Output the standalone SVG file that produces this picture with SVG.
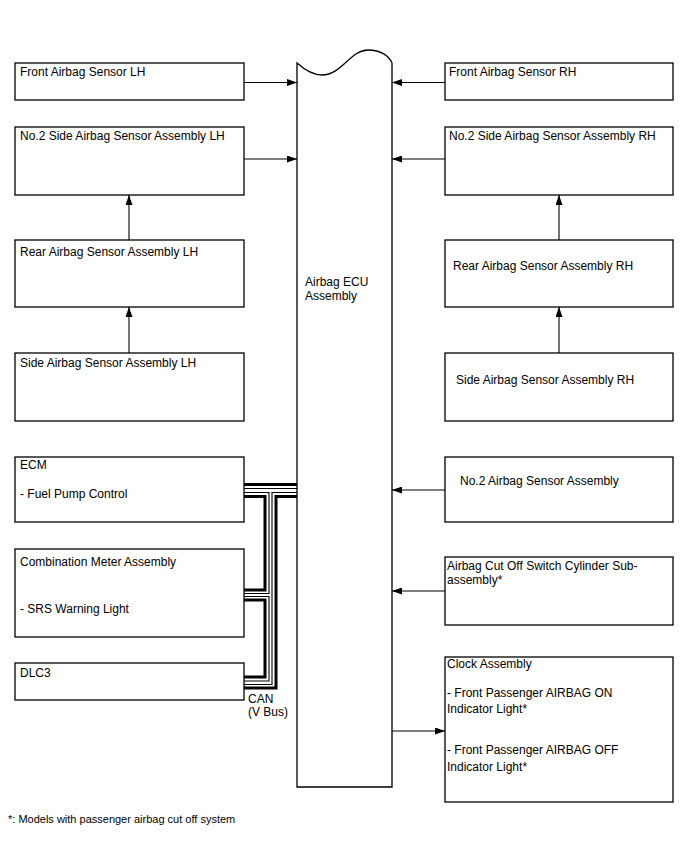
<svg xmlns="http://www.w3.org/2000/svg" width="688" height="852" viewBox="0 0 688 852">
<style>
.box{fill:#fff;stroke:#000;stroke-width:1.3}
.t{font-family:"Liberation Sans",Arial,sans-serif;font-size:12px;fill:#000}
.fn{font-family:"Liberation Sans",Arial,sans-serif;font-size:11px;fill:#000}
.ln{fill:none;stroke:#000;stroke-width:1.1}
.thick{fill:none;stroke:#000;stroke-width:3}
.thin{fill:none;stroke:#000;stroke-width:1.1}
</style>
<defs>
<marker id="ah" markerWidth="10" markerHeight="7" refX="10" refY="3.5" orient="auto" markerUnits="userSpaceOnUse">
<path d="M0,0 L10,3.5 L0,7 z" fill="#000"/>
</marker>
</defs>
<rect width="688" height="852" fill="#fff"/>

<g id="ecu">
<path class="box" d="M297,63 C306,71 313,75 322,75 C342,75 350,50 368,50 C381,50 389,56 392,63 L392,787 L297,787 Z"/>
<text class="t" x="305" y="286">Airbag ECU</text>
<text class="t" x="305" y="300">Assembly</text>
</g>

<g id="front-lh"><rect class="box" x="15" y="63" width="229" height="37"/><text class="t" x="20" y="76">Front Airbag Sensor LH</text></g>
<g id="no2-side-lh"><rect class="box" x="15" y="127" width="229" height="68"/><text class="t" x="20" y="140">No.2 Side Airbag Sensor Assembly LH</text></g>
<g id="rear-lh"><rect class="box" x="15" y="240" width="229" height="67"/><text class="t" x="20" y="256">Rear Airbag Sensor Assembly LH</text></g>
<g id="side-lh"><rect class="box" x="15" y="353" width="229" height="68"/><text class="t" x="20" y="367">Side Airbag Sensor Assembly LH</text></g>
<g id="ecm"><rect class="box" x="15" y="457" width="229" height="65"/><text class="t" x="20" y="469">ECM</text><text class="t" x="20" y="498">- Fuel Pump Control</text></g>
<g id="meter"><rect class="box" x="15" y="549" width="229" height="88"/><text class="t" x="20" y="566">Combination Meter Assembly</text><text class="t" x="20" y="613">- SRS Warning Light</text></g>
<g id="dlc3"><rect class="box" x="15" y="663" width="229" height="37"/><text class="t" x="20" y="677">DLC3</text></g>

<g id="front-rh"><rect class="box" x="445" y="63" width="228" height="37"/><text class="t" x="449" y="76">Front Airbag Sensor RH</text></g>
<g id="no2-side-rh"><rect class="box" x="445" y="127" width="228" height="68"/><text class="t" x="449" y="140">No.2 Side Airbag Sensor Assembly RH</text></g>
<g id="rear-rh"><rect class="box" x="445" y="240" width="228" height="67"/><text class="t" x="453" y="270">Rear Airbag Sensor Assembly RH</text></g>
<g id="side-rh"><rect class="box" x="445" y="353" width="228" height="68"/><text class="t" x="456" y="384">Side Airbag Sensor Assembly RH</text></g>
<g id="no2-airbag"><rect class="box" x="445" y="457" width="228" height="65"/><text class="t" x="460" y="485">No.2 Airbag Sensor Assembly</text></g>
<g id="cutoff"><rect class="box" x="445" y="557" width="228" height="68"/><text class="t" x="447" y="570">Airbag Cut Off Switch Cylinder Sub-</text><text class="t" x="447" y="584">assembly*</text></g>
<g id="clock"><rect class="box" x="445" y="657" width="228" height="145"/><text class="t" x="447" y="668">Clock Assembly</text><text class="t" x="447" y="697">- Front Passenger AIRBAG ON</text><text class="t" x="447" y="713">Indicator Light*</text><text class="t" x="447" y="754">- Front Passenger AIRBAG OFF</text><text class="t" x="447" y="771">Indicator Light*</text></g>

<g id="connectors">
<line class="ln" x1="244" y1="82.5" x2="297" y2="82.5" marker-end="url(#ah)"/>
<line class="ln" x1="244" y1="159" x2="297" y2="159" marker-end="url(#ah)"/>
<line class="ln" x1="129" y1="240" x2="129" y2="195" marker-end="url(#ah)"/>
<line class="ln" x1="129" y1="353" x2="129" y2="307" marker-end="url(#ah)"/>
<line class="ln" x1="445" y1="82.5" x2="392" y2="82.5" marker-end="url(#ah)"/>
<line class="ln" x1="445" y1="159" x2="392" y2="159" marker-end="url(#ah)"/>
<line class="ln" x1="559" y1="240" x2="559" y2="195" marker-end="url(#ah)"/>
<line class="ln" x1="559" y1="353" x2="559" y2="307" marker-end="url(#ah)"/>
<line class="ln" x1="445" y1="490" x2="392" y2="490" marker-end="url(#ah)"/>
<line class="ln" x1="445" y1="591" x2="392" y2="591" marker-end="url(#ah)"/>
<line class="ln" x1="392" y1="731" x2="445" y2="731" marker-end="url(#ah)"/>

<g id="can-bus">
<path class="thick" d="M244,484.5 H297"/>
<path class="thin" d="M244,488.5 H297"/>
<path class="thin" d="M244,492.5 H269 V593.5 H244"/>
<path class="thick" d="M244,496.5 H265 V590 H244"/>
<path class="thin" d="M297,492.5 H272 V684.5 H244"/>
<path class="thick" d="M297,496.5 H276 V688 H244"/>
<path class="thin" d="M244,596.5 H269 V681 H244"/>
<path class="thick" d="M244,600 H265 V677 H244"/>
</g>
</g>

<text class="t" x="248" y="703">CAN</text>
<text class="t" x="248" y="716">(V Bus)</text>
<text class="fn" x="8" y="823">*: Models with passenger airbag cut off system</text>
</svg>
